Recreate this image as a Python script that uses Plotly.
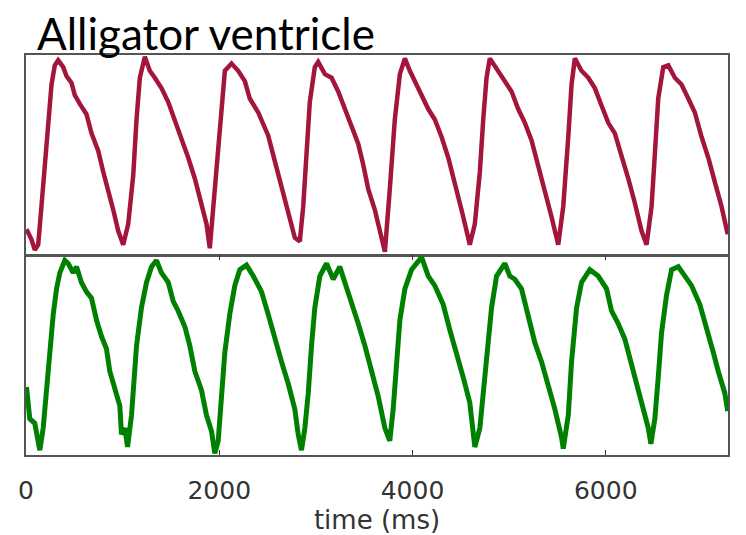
import plotly.graph_objects as go
from plotly.subplots import make_subplots

# ---- data (time in ms, signal in arbitrary normalized units) ----
red_time = [5, 57, 91, 126, 160, 195, 230, 264, 298, 333, 385, 419, 471, 505, 557, 626, 678, 747,
            799, 851, 903, 954, 1006, 1058, 1110, 1144, 1178, 1230, 1281, 1333, 1402, 1472, 1540,
            1609, 1679, 1747, 1816, 1868, 1902, 1938, 1989, 2023, 2058, 2127, 2196, 2265, 2316,
            2403, 2437, 2506, 2575, 2644, 2714, 2782, 2834, 2869, 2903, 2937, 2989, 3024, 3093,
            3162, 3231, 3300, 3369, 3438, 3490, 3542, 3610, 3662, 3714, 3765, 3817, 3869, 3921,
            3972, 4024, 4093, 4163, 4231, 4300, 4370, 4438, 4507, 4559, 4593, 4645, 4697, 4732,
            4766, 4800, 4887, 4956, 5025, 5094, 5163, 5232, 5301, 5370, 5439, 5508, 5560, 5612,
            5646, 5680, 5749, 5819, 5887, 5956, 6026, 6094, 6163, 6233, 6301, 6370, 6422, 6474,
            6508, 6543, 6595, 6647, 6715, 6784, 6854, 6922, 6991, 7061, 7129, 7198, 7262]
red_value = [12.7, 7.5, 2.3, 4.9, 24.1, 45.0, 67.7, 85.2, 94.8, 97.4, 93.9, 89.5, 86.0, 79.9, 75.5,
             70.3, 60.7, 52.0, 41.5, 32.8, 22.4, 11.9, 4.9, 15.3, 39.8, 67.7, 88.6, 99.1, 92.1,
             88.6, 83.4, 76.4, 67.7, 59.0, 48.5, 38.1, 25.8, 15.3, 3.1, 24.1, 50.3, 76.4, 92.1,
             95.7, 92.1, 86.9, 78.2, 71.2, 67.5, 59.7, 46.8, 34.6, 20.6, 8.4, 6.6, 24.1, 50.3,
             76.4, 93.9, 96.5, 90.4, 88.6, 81.7, 72.9, 64.2, 55.5, 45.0, 32.8, 22.4, 11.9, 1.4,
             32.8, 67.7, 90.4, 98.3, 92.1, 86.9, 79.9, 72.9, 67.7, 59.0, 48.5, 36.3, 22.4, 11.9,
             4.9, 15.3, 41.5, 67.7, 88.6, 98.3, 92.1, 86.9, 81.7, 72.9, 66.0, 57.2, 45.0, 32.8,
             18.8, 4.9, 24.1, 59.0, 85.2, 98.3, 92.1, 88.6, 83.4, 74.7, 66.0, 60.7, 50.3, 38.1,
             25.8, 11.9, 4.9, 24.1, 50.3, 78.2, 93.9, 94.8, 88.6, 85.2, 78.2, 71.2, 59.0, 48.5,
             36.3, 24.1, 10.1]

green_time = [5, 39, 91, 143, 178, 212, 246, 282, 316, 350, 402, 437, 489, 523, 574, 626, 678, 730,
              781, 833, 867, 919, 971, 988, 1023, 1051, 1092, 1144, 1195, 1247, 1299, 1351, 1402,
              1472, 1524, 1575, 1644, 1695, 1747, 1816, 1868, 1920, 1954, 1989, 2023, 2058, 2109,
              2161, 2213, 2282, 2352, 2437, 2506, 2575, 2644, 2714, 2782, 2817, 2851, 2886, 2921,
              2955, 2989, 3041, 3110, 3180, 3248, 3300, 3369, 3438, 3507, 3576, 3645, 3714, 3765,
              3800, 3835, 3869, 3921, 3990, 4094, 4163, 4231, 4318, 4386, 4456, 4525, 4593, 4628,
              4645, 4697, 4732, 4784, 4818, 4870, 4956, 5007, 5059, 5128, 5198, 5266, 5335, 5405,
              5473, 5543, 5560, 5612, 5646, 5698, 5749, 5835, 5922, 6008, 6060, 6129, 6198, 6250,
              6319, 6388, 6440, 6467, 6508, 6543, 6577, 6629, 6681, 6750, 6819, 6888, 6974, 7043,
              7112, 7164, 7232, 7262]
green_value = [34.1, 18.2, 15.9, 2.4, 13.5, 31.0, 54.8, 70.6, 83.3, 91.3, 97.6, 96.0, 91.3, 94.4,
               86.5, 81.8, 78.6, 67.5, 59.5, 53.2, 42.0, 32.5, 24.6, 10.3, 13.5, 4.0, 19.9, 54.8,
               73.8, 86.5, 94.4, 97.6, 91.3, 86.5, 77.0, 72.2, 64.3, 54.8, 42.0, 32.5, 19.9, 11.9,
               0.8, 7.1, 27.8, 51.6, 70.6, 84.9, 92.9, 95.2, 89.7, 81.9, 70.6, 58.0, 46.8, 35.7,
               23.0, 10.3, 2.4, 13.5, 31.0, 54.8, 73.8, 89.7, 96.0, 88.1, 94.4, 86.5, 77.0, 65.9,
               54.8, 42.0, 29.4, 13.5, 7.1, 23.0, 46.8, 67.5, 83.3, 92.9, 99.2, 89.7, 84.9, 75.4,
               62.7, 51.6, 38.9, 26.2, 13.5, 4.0, 13.5, 31.0, 54.8, 73.8, 89.7, 96.0, 89.7, 88.1,
               83.3, 70.6, 56.3, 46.8, 35.7, 23.0, 8.7, 3.2, 19.9, 46.8, 73.8, 86.5, 92.9, 89.7,
               83.3, 72.2, 65.9, 58.0, 48.4, 35.7, 24.6, 13.5, 5.6, 18.2, 38.9, 61.1, 80.1, 92.9,
               94.4, 89.7, 84.9, 75.4, 64.3, 51.6, 42.0, 31.0, 22.0]

x_ticks = [0, 2000, 4000, 6000]
x_tick_labels = ["0", "2000", "4000", "6000"]
title_text = "Alligator ventricle"
x_title = "time (ms)"

RED = "#A3153A"
GREEN = "#008000"
FRAME = "#555555"

fig = make_subplots(rows=2, cols=1, shared_xaxes=True, vertical_spacing=0.0025)

fig.add_trace(go.Scatter(x=red_time, y=red_value, mode="lines",
                         line=dict(color=RED, width=4.5), showlegend=False), row=1, col=1)
fig.add_trace(go.Scatter(x=green_time, y=green_value, mode="lines",
                         line=dict(color=GREEN, width=5), showlegend=False), row=2, col=1)

xrange = [0, 7265]
fig.update_xaxes(range=xrange, showgrid=False, zeroline=False, showline=True,
                 linecolor=FRAME, linewidth=1.5)
fig.update_xaxes(row=1, col=1, mirror=True, ticks="", showticklabels=False)
fig.update_xaxes(row=2, col=1, mirror="ticks", ticks="inside", ticklen=5, tickwidth=1,
                 tickcolor="#333333", tickvals=x_ticks, ticktext=x_tick_labels,
                 ticklabelstandoff=12,
                 tickfont=dict(family="DejaVu Sans", size=25, color="#333333"),
                 title=dict(text=x_title, standoff=0,
                            font=dict(family="DejaVu Sans", size=26, color="#333333")))
fig.update_yaxes(range=[0, 100], showgrid=False, zeroline=False, showline=True,
                 linecolor=FRAME, linewidth=1.5, mirror=True, ticks="",
                 showticklabels=False)

fig.add_annotation(text=title_text, xref="paper", yref="paper", x=0.0128, y=1.0,
                   xanchor="left", yanchor="bottom", yshift=-6, showarrow=False,
                   font=dict(family="Lato", size=44, color="#000000"))

fig.update_layout(width=746, height=535, plot_bgcolor="white", paper_bgcolor="white",
                  margin=dict(l=26, r=18, t=55, b=78))

fig.write_html("out.html")
